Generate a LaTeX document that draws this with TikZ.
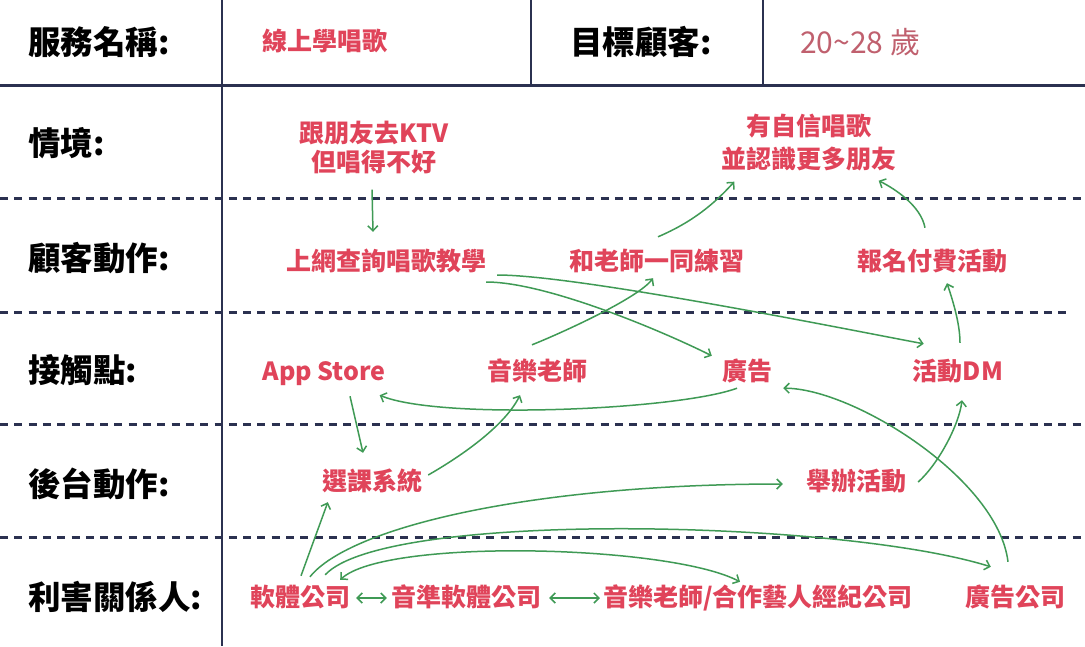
\documentclass[tikz,border=0pt]{standalone}
\usepackage{fontspec}
\setmainfont{Noto Sans CJK TC}
\usetikzlibrary{arrows.meta}

\definecolor{gridline}{HTML}{2B3150}
\definecolor{itemred}{HTML}{E0445A}
\definecolor{agerose}{HTML}{C0606E}
\definecolor{flowgreen}{HTML}{3F9A55}

\begin{document}
\begin{tikzpicture}[x=1pt,y=-1pt,>={Straight Barb[length=5pt,width=10pt]},
    row label/.style={anchor=west,inner sep=0pt,font=\bfseries\fontsize{32.5}{36}\selectfont},
    item/.style={inner sep=0pt,text=itemred,text height=20pt,text depth=4pt,
                 font=\bfseries\fontsize{25}{29}\selectfont},
    twoline/.style={align=center,text height=,text depth=},
    flow/.style={->,draw=flowgreen,line width=1.5pt},
    both flow/.style={<->,draw=flowgreen,line width=1.5pt},
    sep line/.style={draw=gridline,line width=3pt,dash pattern=on 8pt off 6.3pt}]

  \useasboundingbox[fill=white] (0,0) rectangle (1085,646);

  % table frame
  \draw[gridline,line width=2.2pt] (222,0) -- (222,646);
  \draw[gridline,line width=2.2pt] (531,0) -- (531,85);
  \draw[gridline,line width=2.2pt] (763,0) -- (763,85);
  \draw[gridline,line width=3pt] (0,85) -- (1085,85);
  \draw[sep line] (0,198) -- (1085,198);
  \draw[sep line] (0,312) -- (1068,312);
  \draw[sep line] (0,424) -- (1085,424);
  \draw[sep line] (0,537) -- (1085,537);

  % row labels
  \node[row label] (lblname) at (28,42) {服務名稱:};
  \node[row label] (lbltarget) at (570,42) {目標顧客:};
  \node[row label] (lblscene) at (28,143) {情境:};
  \node[row label] (lblaction) at (28,258) {顧客動作:};
  \node[row label] (lbltouch) at (28,370) {接觸點:};
  \node[row label] (lblback) at (28,484) {後台動作:};
  \node[row label] (lblstake) at (28,597) {利害關係人:};

  % header values
  \node[item] (service) at (325,42) {線上學唱歌};
  \node[anchor=west,inner sep=0pt,text=agerose,font=\fontsize{30}{34}\selectfont]
    (age) at (800,42) {20\textasciitilde28 歲};

  % items
  \node[item,twoline] (ktv) at (374,148) {跟朋友去KTV\\但唱得不好};
  \node[item,twoline,font=\bfseries\fontsize{25}{33}\selectfont] (goal) at (809,143)
    {有自信唱歌\\並認識更多朋友};
  \node[item] (search) at (386,262) {上網查詢唱歌教學};
  \node[item] (practice) at (657,262) {和老師一同練習};
  \node[item] (signup) at (932,262) {報名付費活動};
  \node[item] (appstore) at (324,372) {App Store};
  \node[item] (teacher) at (537,372) {音樂老師};
  \node[item] (ad) at (747,372) {廣告};
  \node[item] (dm) at (958,372) {活動DM};
  \node[item] (course) at (372,482) {選課系統};
  \node[item] (event) at (856,482) {舉辦活動};
  \node[item] (soft) at (300,598) {軟體公司};
  \node[item] (pitch) at (466,598) {音準軟體公司};
  \node[item] (artist) at (758,598) {音樂老師/合作藝人經紀公司};
  \node[item] (adco) at (1015,598) {廣告公司};

  % flows
  \draw[flow] ([shift={(-2,15)}]ktv.south) -- ([shift={(-13,-18)}]search.north);
  \draw[flow] ([shift={(1,-13)}]practice.north) .. controls +(35,-15) and +(-20,22) ..
    ([shift={(13,10)}]goal.south west);
  \draw[flow] ([shift={(-7,-22)}]signup.north) .. controls +(-4,-22) and +(16,8) ..
    ([shift={(-18,9)}]goal.south east);
  \draw[flow] ([shift={(0,20)}]search.east) .. controls +(60,0) and +(-50,-25) ..
    ([shift={(-10,-4)}]ad.north west);
  \draw[flow] ([shift={(11,13)}]search.east) .. controls +(80,0) and +(-80,-15) ..
    ([shift={(11,-16)}]dm.north west);
  \draw[flow] ([shift={(-5,-15)}]teacher.north) .. controls +(30,-12) and +(-15,20) ..
    ([shift={(-4,4)}]practice.south);
  \draw[flow] ([shift={(2,-17)}]dm.north) .. controls +(0,-20) and +(5,15) ..
    ([shift={(15,9)}]signup.south);
  \draw[flow] ([shift={(-10,4)}]ad.south) .. controls +(-60,22) and +(60,25) ..
    ([shift={(-6,11)}]appstore.south east);
  \draw[flow] ([shift={(26,12)}]appstore.south) -- ([shift={(-9,-17)}]course.north);
  \draw[flow] ([shift={(6,-7)}]course.east) .. controls +(35,-20) and +(-15,30) ..
    ([shift={(-17,11)}]teacher.south);
  \draw[flow] ([shift={(12,0)}]event.east) .. controls +(20,-18) and +(-3,25) ..
    ([shift={(4,16)}]dm.south);
  \draw[flow] ([shift={(-7,-24)}]adco.north) .. controls +(-10,-83) and +(70,0) ..
    ([shift={(11,4)}]ad.south east);
  \draw[flow] ([shift={(1,-10)}]soft.north) -- ([shift={(6,8)}]course.south west);
  \draw[flow] ([shift={(10,-9)}]soft.north) .. controls +(40,-50) and +(-250,0) ..
    ([shift={(-23,2)}]event.west);
  \draw[flow] ([shift={(-25,-11)}]soft.north east) .. controls +(60,-65) and +(-150,-47) ..
    ([shift={(26,-19)}]adco.north west);
  \draw[both flow] ([shift={(-10,-6)}]soft.north east) .. controls +(45,-42) and +(-70,-37) ..
    ([shift={(-18,-4)}]artist.north);
  \draw[both flow] ([shift={(6,0)}]soft.east) -- ([shift={(-4,0)}]pitch.west);
  \draw[both flow] ([shift={(8,0)}]pitch.east) -- ([shift={(-3,0)}]artist.west);
\end{tikzpicture}
\end{document}
